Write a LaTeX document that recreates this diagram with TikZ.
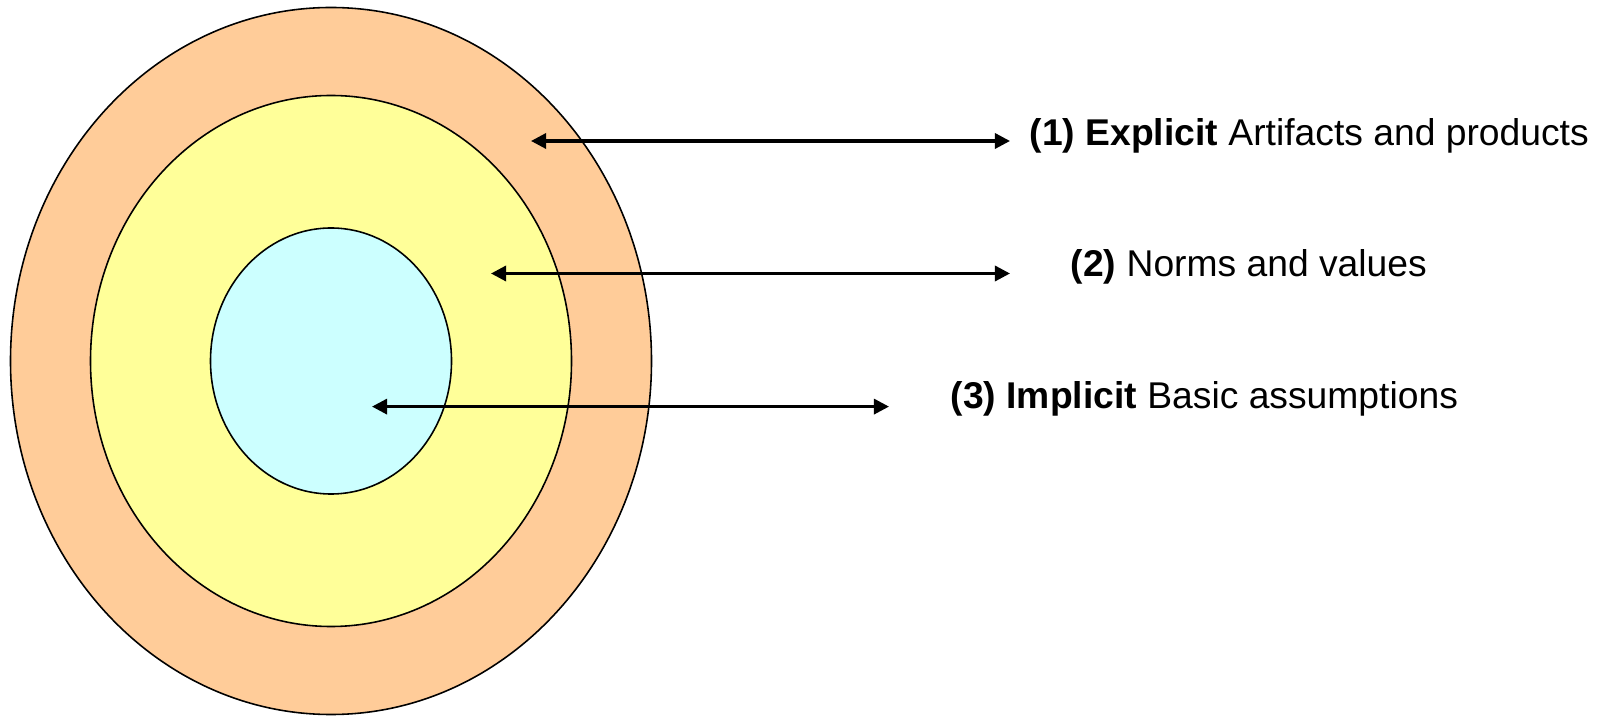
\documentclass[tikz,border=0pt]{standalone}
\usepackage{fontspec}
\setmainfont{Liberation Sans}
\usetikzlibrary{shapes.geometric, arrows.meta}
\definecolor{ringout}{HTML}{FFCC99}
\definecolor{ringmid}{HTML}{FFFF99}
\definecolor{ringin}{HTML}{CCFFFF}
\tikzset{
    every node/.style={inner sep=0pt, font=\fontsize{10.6}{12}\selectfont},
    layer/.style={ellipse, draw, line width=0.45pt},
    pointer/.style={{Triangle[length=4.3pt,width=4.3pt]}-{Triangle[length=4.3pt,width=4.3pt]},
        line width=0.9pt}
}

\begin{document}
\begin{tikzpicture}
  \useasboundingbox (0cm, 0cm) rectangle (16.06cm, 7.16cm);

  \node (outer) [layer, fill=ringout, minimum width=6.41cm, minimum height=7.07cm] at (3.31cm, 3.55cm) {};
  \node (middle) [layer, fill=ringmid, minimum width=4.81cm, minimum height=5.31cm] at (3.31cm, 3.55cm) {};
  \node (inner) [layer, fill=ringin, minimum width=2.41cm, minimum height=2.66cm] at (3.31cm, 3.55cm) {};

  \coordinate (p1) at (5.31cm, 5.75cm);
  \coordinate (q1) at (10.10cm, 5.75cm);
  \coordinate (p2) at (4.91cm, 4.425cm);
  \coordinate (q2) at (10.10cm, 4.425cm);
  \coordinate (p3) at (3.72cm, 3.094cm);
  \coordinate (q3) at (8.89cm, 3.094cm);

  \node (explicit) [anchor=base west] at (10.29cm, 5.705cm) {\textbf{(1) Explicit} Artifacts and products};
  \node (norms) [anchor=base west] at (10.70cm, 4.395cm) {\textbf{(2)} Norms and values};
  \node (implicit) [anchor=base west] at (9.50cm, 3.075cm) {\textbf{(3) Implicit} Basic assumptions};

  \draw [pointer] (p1) -- (q1);
  \draw [pointer] (p2) -- (q2);
  \draw [pointer] (p3) -- (q3);
\end{tikzpicture}
\end{document}
